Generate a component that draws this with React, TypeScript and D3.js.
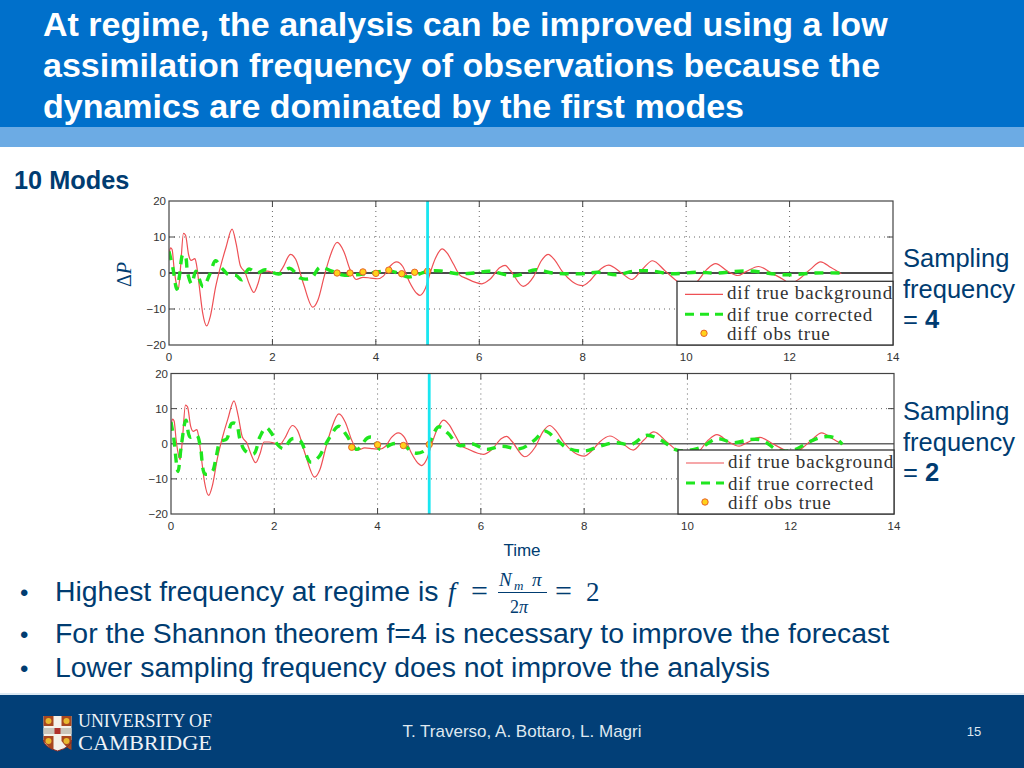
import React from "react";
import * as d3 from "d3";

const titleLines = [
  "At regime, the analysis can be improved using a low",
  "assimilation frequency of observations because the",
  "dynamics are dominated by the first modes",
];
const xTicks = [0, 2, 4, 6, 8, 10, 12, 14];
const yTicks = [-20, -10, 0, 10, 20];
const legendLabels = ["dif true background", "dif true corrected", "diff obs true"];

const backgroundT = [0, 0.03, 0.06, 0.1, 0.15, 0.18, 0.22, 0.28, 0.32, 0.38, 0.43, 0.5, 0.53, 0.58, 0.65, 0.73, 0.8, 0.9, 1.0, 1.1, 1.22, 1.3, 1.38, 1.47, 1.55, 1.64, 1.72, 1.8, 1.9, 2.0, 2.1, 2.2, 2.35, 2.45, 2.6, 2.78, 2.88, 3.0, 3.1, 3.25, 3.38, 3.5, 3.62, 3.75, 3.9, 4.03, 4.15, 4.27, 4.4, 4.52, 4.65, 4.78, 4.85, 4.95, 5.05, 5.15, 5.28, 5.38, 5.5, 5.62, 5.75, 6.05, 6.2, 6.4, 6.5, 6.6, 6.85, 7.05, 7.2, 7.33, 7.46, 7.6, 7.8, 8, 8.15, 8.3, 8.5, 8.75, 8.95, 9.15, 9.35, 9.6, 9.85, 10, 10.2, 10.4, 10.57, 10.8, 11, 11.15, 11.4, 11.65, 11.9, 12, 12.2, 12.4, 12.6, 12.8, 13];
const backgroundV = [5, 7, 6.5, 1, -3.5, -4.5, 1, 11, 10.5, 5, 3.5, 4, 2.5, -3, -11, -14.7, -12, -4, 2, 7, 12.2, 8, 2, 0.2, -3, -5.4, -3, 0.5, 0.5, 0.2, -0.3, 1.5, 5.2, 3.8, -3, -9.5, -7.5, -1, 4, 8.5, 6, 1, -1.8, -1.2, -1.4, -1.6, -0.8, 1.8, 3.1, 1.8, -2.5, -5.5, -6.2, -4.5, 0, 4, 6.7, 5.5, 2.5, -0.5, -1.5, -3, -1.8, 1.5, 2.1, 0.7, -3.7, -1, 3.4, 5.2, 3.6, 0.5, -2.4, -3.5, -2, 0.5, 2.2, 0, -1.8, 1, 3.4, 0.5, -2.5, -3.5, -2.5, 1, 2.6, 0.5, -0.7, 0.3, 1.8, 0, -2, -3, -1.5, 1, 3.1, 1.5, -0.2];

const correctedFourT = [0, 0.08, 0.15, 0.2, 0.27, 0.32, 0.36, 0.44, 0.52, 0.66, 0.79, 0.9, 1.02, 1.15, 1.3, 1.41, 1.54, 1.7, 1.86, 2.12, 2.34, 2.54, 2.75, 2.92, 3.15, 3.37, 3.6, 3.9, 4.28, 4.63, 4.8, 5, 5.25, 5.57, 5.9, 6.2, 6.55, 6.72, 7.1, 7.42, 8, 8.3, 8.66, 8.98, 9.3, 9.7, 10.2, 10.6, 11.17, 11.9, 12.5, 13];
const correctedFourV = [6, 1, -4.5, -1, 5.2, 4.5, 0, -3, 0.5, -3.8, -0.3, 3.4, 1.4, -0.5, -0.7, -1.9, 1.1, 0, 0.9, -0.3, 1.3, -1.4, -1.4, 1.6, 0.5, -0.6, -0.5, 0, 0.6, -1.1, -0.5, 0.5, 0.6, -0.2, 0, 0.5, -0.6, -0.7, 0.9, 0, -0.2, 0.2, -0.5, 0.5, 0.6, -0.2, 0.2, 0, 0.6, -0.5, 0, 0];

const correctedTwoT = [0, 0.05, 0.135, 0.2, 0.29, 0.37, 0.5, 0.57, 0.66, 0.79, 0.88, 0.95, 1.08, 1.17, 1.26, 1.34, 1.43, 1.6, 1.72, 1.84, 1.95, 2.05, 2.18, 2.34, 2.5, 2.7, 2.86, 3.02, 3.25, 3.4, 3.6, 3.8, 3.9, 4.05, 4.3, 4.5, 4.7, 4.92, 5.18, 5.37, 5.57, 5.83, 6.1, 6.4, 6.76, 7.02, 7.24, 7.43, 7.66, 8, 8.3, 8.6, 8.92, 9.2, 9.47, 9.8, 10.25, 10.57, 10.9, 11.2, 11.45, 11.75, 12.05, 12.4, 12.65, 12.85, 13];
const correctedTwoV = [6.2, 2, -7.9, -0.5, 6.7, 1.9, 2.4, -1, -8.6, -8.1, -3.3, 0.5, 1.4, 5.7, 5.7, 1, -1.9, -2.9, 1.9, 4.6, 2.9, 0, -1.4, 1.4, 0.9, -5.2, -3.8, 0.5, 5, 2.4, -1.6, 1.6, 1.8, -1.6, 0, -0.3, -2.6, -1.9, 4.8, 2.9, -0.5, 0, -1.6, -0.7, -1.4, 0.8, 3.6, 1.7, -1.1, -2.1, -0.7, 0.3, -0.2, 2.4, 1.2, -1.8, -1.1, 1.4, 0.3, 1.2, 1, -1.8, -1.8, 0.8, 2, 1.7, -0.2];

const obsFourT = [3.25, 3.5, 3.75, 4, 4.25, 4.5, 4.75, 5];
const obsFourV = [0, 0, 0.3, -0.1, 0.8, -0.2, 0.2, 0.5];
const obsTwoT = [3.5, 4, 4.5, 5];
const obsTwoV = [-1, -0.3, -0.5, -0.2];

const NAVY = "#003c71";
const SANS = "'Liberation Sans', Arial, sans-serif";
const SERIF = "'Liberation Serif', serif";

type PlotProps = {
  id: string; left: number; right: number; top: number; bottom: number;
  corrT: number[]; corrV: number[]; obsT: number[]; obsV: number[];
  legendTop: number; legendLeft: number; zeroColor: string;
};

function Plot({ id, left, right, top, bottom, corrT, corrV, obsT, obsV, legendTop, legendLeft, zeroColor }: PlotProps) {
  const x = d3.scaleLinear().domain([0, 14]).range([left, right]);
  const y = d3.scaleLinear().domain([-20, 20]).range([bottom, top]);
  const redLine = d3.line<[number, number]>().x(d => x(d[0])).y(d => y(d[1])).curve(d3.curveMonotoneX);
  const greenLine = d3.line<[number, number]>().x(d => x(d[0])).y(d => y(d[1])).curve(d3.curveCatmullRom.alpha(0.5));
  const red = redLine(backgroundT.map((t, i) => [t, backgroundV[i]] as [number, number])) || "";
  const green = greenLine(corrT.map((t, i) => [t, corrV[i]] as [number, number])) || "";
  const lx = legendLeft + 8;
  const lh = bottom - legendTop;
  return (
    <g>
      <defs>
        <clipPath id={id}><rect x={left} y={top} width={right - left} height={bottom - top} /></clipPath>
      </defs>
      {xTicks.slice(1, -1).map(t => (
        <line key={"gx" + t} x1={x(t)} x2={x(t)} y1={top} y2={bottom} stroke="#666" strokeWidth={1} strokeDasharray="1 4" />
      ))}
      {[-10, 10].map(t => (
        <line key={"gy" + t} x1={left} x2={right} y1={y(t)} y2={y(t)} stroke="#666" strokeWidth={1} strokeDasharray="1 4" />
      ))}
      <line x1={left} x2={right} y1={y(0)} y2={y(0)} stroke={zeroColor} strokeWidth={1.3} />
      <path d={red} fill="none" stroke="#ee5055" strokeWidth={1.2} clipPath={`url(#${id})`} />
      <path d={green} fill="none" stroke="#1fe61f" strokeWidth={3.4} strokeDasharray="9 7" clipPath={`url(#${id})`} />
      {obsT.map((t, i) => (
        <circle key={"o" + t} cx={x(t)} cy={y(obsV[i])} r={3.2} fill="#ffd21a" stroke="#e8622a" strokeWidth={1} />
      ))}
      <line x1={x(5)} x2={x(5)} y1={top} y2={bottom} stroke="#19e6f0" strokeWidth={2.8} />
      <rect x={left} y={top} width={right - left} height={bottom - top} fill="none" stroke="#444" strokeWidth={1.2} />
      {xTicks.slice(1, -1).map(t => (
        <g key={"tx" + t}>
          <line x1={x(t)} x2={x(t)} y1={top} y2={top + 6} stroke="#444" />
          <line x1={x(t)} x2={x(t)} y1={bottom} y2={bottom - 6} stroke="#444" />
        </g>
      ))}
      {[-10, 10].map(t => (
        <g key={"ty" + t}>
          <line x1={left} x2={left + 6} y1={y(t)} y2={y(t)} stroke="#444" />
          <line x1={right} x2={right - 6} y1={y(t)} y2={y(t)} stroke="#444" />
        </g>
      ))}
      {xTicks.map(t => (
        <text key={"lx" + t} x={x(t)} y={bottom + 16} textAnchor="middle" fontFamily={SANS} fontSize={11.5} fill="#333">{t}</text>
      ))}
      {yTicks.map(t => (
        <text key={"ly" + t} x={left - 3} y={y(t) + 4} textAnchor="end" fontFamily={SANS} fontSize={11.5} fill="#333">
          {t < 0 ? "\u2212" + Math.abs(t) : t}
        </text>
      ))}
      <rect x={legendLeft} y={legendTop} width={right - legendLeft} height={lh} fill="#fff" stroke="#333" strokeWidth={1.3} />
      <line x1={lx} x2={lx + 38} y1={legendTop + 13} y2={legendTop + 13} stroke="#ee5055" strokeWidth={1.2} />
      <line x1={lx} x2={lx + 38} y1={legendTop + 33} y2={legendTop + 33} stroke="#1fe61f" strokeWidth={3} strokeDasharray="9 6" />
      <circle cx={lx + 19} cy={legendTop + 52} r={3.2} fill="#ffd21a" stroke="#e8622a" strokeWidth={1} />
      {legendLabels.map((s, i) => (
        <text key={s} x={legendLeft + 50} y={legendTop + [18, 39.5, 58.5][i]} fontFamily={SERIF} fontSize={19} letterSpacing={0.85} fill="#333">{s}</text>
      ))}
    </g>
  );
}

function Shield() {
  const cells = [[0, 0], [18, 0], [0, 20], [18, 20]];
  return (
    <g transform="translate(43.5,716)">
      <path d="M0 0H28V24Q28 31 14 35Q0 31 0 24Z" fill="#f4f1ea" />
      {cells.map(([a, b]) => (
        <path key={a + "-" + b} d={b ? `M${a} ${b}h10v14Q${a + 5} ${b + 12} ${a} ${b + 5}Z` : `M${a} ${b}h10v10h-10Z`} fill="#a8461f" />
      ))}
      {cells.map(([a, b]) => (
        <circle key={"c" + a + b} cx={a + 5} cy={b + 5} r={3} fill="#e8b830" />
      ))}
      <rect x={0} y={12} width={28} height={6} fill="#c9c5bb" />
      <rect x={11} y={12} width={6} height={6} fill="#b0302a" />
      <path d="M0 24Q0 31 14 35Q28 31 28 24" fill="none" stroke="#8a2a22" strokeWidth={1} />
    </g>
  );
}

export default function App() {
  return (
    <svg width={1024} height={768} viewBox="0 0 1024 768" style={{ position: "absolute", left: 0, top: 0, display: "block" }}>
      <rect width={1024} height={768} fill="#fff" />
      <rect width={1024} height={127} fill="#0070cb" />
      <rect y={127} width={1024} height={20} fill="#6cabe4" />
      {titleLines.map((s, i) => (
        <text key={s} x={43} y={36 + i * 41} fontFamily={SANS} fontWeight={700} fontSize={34} fill="#fff">{s}</text>
      ))}
      <text x={14} y={189} fontFamily={SANS} fontWeight={700} fontSize={25.3} fill={NAVY}>10 Modes</text>

      <text transform="translate(131,287) rotate(-90)" fontFamily={SERIF} fontSize={20} fill={NAVY}>
        {"\u0394"}<tspan fontStyle="italic">P</tspan>
      </text>
      <Plot id="clipA" left={169} right={893} top={201} bottom={345} corrT={correctedFourT} corrV={correctedFourV} obsT={obsFourT} obsV={obsFourV} legendTop={281.3} legendLeft={677} zeroColor="#111" />
      <Plot id="clipB" left={171} right={894} top={373.5} bottom={514} corrT={correctedTwoT} corrV={correctedTwoV} obsT={obsTwoT} obsV={obsTwoV} legendTop={450} legendLeft={678} zeroColor="#666" />

      {[["4", 267], ["2", 420]].map(([n, y0]) => (
        <text key={n as string} fontFamily={SANS} fontSize={25.5} fill={NAVY}>
          <tspan x={903} y={y0 as number}>Sampling</tspan>
          <tspan x={903} y={(y0 as number) + 30.5}>frequency</tspan>
          <tspan x={903} y={(y0 as number) + 61}>= </tspan>
          <tspan fontWeight={700}>{n}</tspan>
        </text>
      ))}
      <text x={522} y={556} textAnchor="middle" fontFamily={SANS} fontSize={17} fill={NAVY}>Time</text>

      <g fontFamily={SANS} fontSize={28.4} fill={NAVY}>
        <text x={20} y={601} fontSize={24}>•</text>
        <text x={55} y={601}>Highest frequency at regime is</text>
        <text x={20} y={643} fontSize={24}>•</text>
        <text x={55} y={643}>For the Shannon theorem f=4 is necessary to improve the forecast</text>
        <text x={20} y={677} fontSize={24}>•</text>
        <text x={55} y={677}>Lower sampling frequency does not improve the analysis</text>
      </g>
      <g fontFamily={SERIF} fill={NAVY}>
        <text x={448} y={601} fontSize={27} fontStyle="italic">f</text>
        <text x={471} y={601} fontSize={30}>=</text>
        <text x={499} y={586} fontSize={19} fontStyle="italic">N</text>
        <text x={514} y={590} fontSize={13} fontStyle="italic">m</text>
        <text x={532} y={586} fontSize={19} fontStyle="italic">π</text>
        <line x1={498} x2={547} y1={592.5} y2={592.5} stroke={NAVY} strokeWidth={1} />
        <text x={510} y={613} fontSize={18}>2<tspan fontStyle="italic">π</tspan></text>
        <text x={555} y={601} fontSize={30}>=</text>
        <text x={586} y={601} fontSize={27}>2</text>
      </g>

      <rect y={693} width={1024} height={2} fill="#dce9f3" />
      <rect y={695} width={1024} height={73} fill="#023f77" />
      <Shield />
      <g fontFamily={SERIF} fill="#eef3f8">
        <text x={78} y={727} fontSize={18} textLength={134} lengthAdjust="spacingAndGlyphs">UNIVERSITY OF</text>
        <text x={78} y={749.5} fontSize={21} textLength={134} lengthAdjust="spacingAndGlyphs">CAMBRIDGE</text>
      </g>
      <text x={522} y={737} textAnchor="middle" fontFamily={SANS} fontSize={17} fill="#dfe8f0">T. Traverso, A. Bottaro, L. Magri</text>
      <text x={974} y={736} textAnchor="middle" fontFamily={SANS} fontSize={13} fill="#dfe8f0">15</text>
    </svg>
  );
}
